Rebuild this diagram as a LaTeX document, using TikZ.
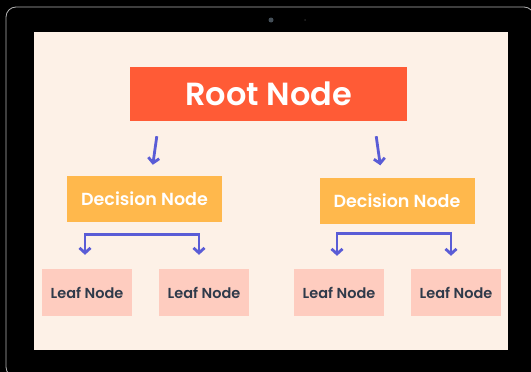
\documentclass[tikz,border=0pt]{standalone}
\usepackage{fontspec}
\setmainfont{Poppins}[BoldFont = Poppins SemiBold]
\usetikzlibrary{arrows.meta, positioning}

\definecolor{pantalla}{HTML}{FDF1E7}
\definecolor{naranja}{HTML}{FF5B36}
\definecolor{amarillo}{HTML}{FFB84C}
\definecolor{rosa}{HTML}{FECCBF}
\definecolor{azul}{HTML}{5A5CD6}
\definecolor{texto}{HTML}{2F3A4A}

\begin{document}
\begin{tikzpicture}[
	x = 1pt, y = -1pt,
	raiz/.style = {fill = naranja, text = white, inner sep = 0pt,
		minimum width = 277pt, minimum height = 54pt,
		font = \bfseries\fontsize{32}{32}\selectfont},
	decision/.style = {fill = amarillo, text = white, inner sep = 0pt,
		minimum width = 155pt, minimum height = 46pt,
		font = \bfseries\fontsize{17.5}{17.5}\selectfont},
	hoja/.style = {fill = rosa, text = texto, inner sep = 0pt,
		minimum width = 90pt, minimum height = 47pt,
		font = \bfseries\fontsize{14.5}{14.5}\selectfont},
	punta/.tip = {Straight Barb[length = 5pt, width = 11pt]},
	flecha/.style = {azul, line width = 2.8pt, -punta},
]

	% marco de la tableta
	\useasboundingbox (0,0) rectangle (531,372);
	\fill[black] (0,0) rectangle (531,372);
	\draw[gray!60, line width = 0.8pt, rounded corners = 10pt]
		(6,7) rectangle (534,377);

	% cámara
	\fill[cyan!25!black] (271,20) circle (2.5);
	\fill[gray!30!black] (305,20) circle (1);

	% pantalla
	\fill[pantalla] (34,32) rectangle (508,350);

	% nodos
	\node[raiz] (raiz) at (268.5,94) {Root Node};

	\node[decision] (dec1) at (144.5,199) {Decision Node};
	\node[decision] (dec2) at (397,200.5) {Decision Node};

	\node[hoja] (hoja1) at (87,292.5) {Leaf Node};
	\node[hoja] (hoja2) at (204,292.5) {Leaf Node};
	\node[hoja] (hoja3) at (339,292.5) {Leaf Node};
	\node[hoja] (hoja4) at (456,292.5) {Leaf Node};

	% flechas de la raíz
	\draw[flecha]
		([shift = {(27,15)}]raiz.south west) -- ([shift = {(86,-11)}]dec1.north west);
	\draw[flecha]
		([shift = {(-31,15)}]raiz.south east) -- ([shift = {(61,-12)}]dec2.north west);

	% horquillas hacia las hojas
	\draw[flecha, punta-punta]
		([shift = {(-2,-14)}]hoja1.north) -- ++(0,-20)
		-| ([shift = {(-5,-14)}]hoja2.north);
	\draw[flecha, punta-punta]
		([shift = {(-2,-13)}]hoja3.north) -- ++(0,-22)
		-| ([shift = {(-5,-13)}]hoja4.north);

\end{tikzpicture}
\end{document}
